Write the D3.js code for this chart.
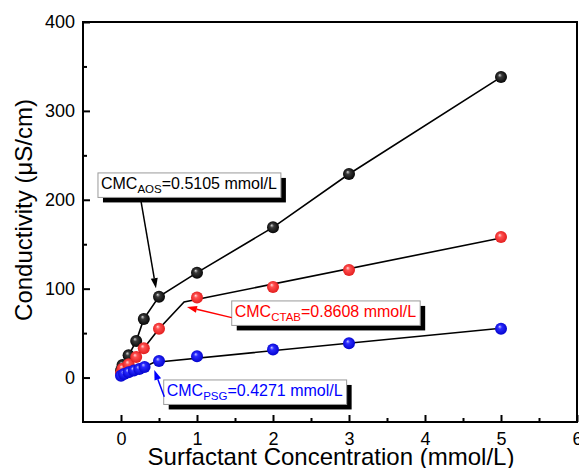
<!DOCTYPE html>
<html><head><meta charset="utf-8">
<script src="https://cdn.jsdelivr.net/npm/d3@7"></script>
<style>
body{margin:0;background:#fff;}
svg{display:block;font-family:"Liberation Sans",Arial,sans-serif;}
</style></head>
<body><svg id="c" width="579" height="468"></svg>
<script>
// ---- data ----
const xTicks = [0, 1, 2, 3, 4, 5, 6];
const yTicks = [0, 100, 200, 300, 400];
const xMinor = [0.5, 1.5, 2.5, 3.5, 4.5, 5.5];
const yMinor = [50, 150, 250, 350];

const aosX = [0, 0.02, 0.1, 0.2, 0.3, 0.5, 1, 2, 3, 5];
const aosY = [8, 14, 25, 41, 66, 91, 118, 169, 229, 338];

const ctabX = [0, 0.02, 0.1, 0.2, 0.3, 0.5, 1, 2, 3, 5];
const ctabY = [5, 10, 15, 23, 33, 55, 90, 102, 121, 158];
const ctabLineX = [0, 0.02, 0.1, 0.2, 0.3, 0.5, 0.83, 5];
const ctabLineY = [5, 10, 15, 23, 33, 55, 85, 157];

const psgX = [0, 0.04, 0.1, 0.17, 0.24, 0.31, 0.5, 1, 2, 3, 5];
const psgY = [2, 4, 6, 8, 9.5, 12, 18.5, 24, 31.5, 38.5, 55];
const psgLineX = [0, 0.04, 0.1, 0.17, 0.24, 0.31, 0.43, 5];
const psgLineY = [2, 4, 6, 8, 9.5, 12, 17, 55.5];

// annotations: [boxLeftX, boxTopY, arrowFromX, arrowFromY, arrowTipX, arrowTipY] in data units
const annNames = ["AOS", "CTAB", "PSG"];
const annValues = ["0.5105", "0.8608", "0.4271"];
const annColors = ["#000000", "#ff0000", "#0000ff"];
const annBox = [[-0.303, 230.2], [1.457, 86.2], [0.562, -2.7]];
const annArrow = [[0.263, 198.6, 0.46, 100.6], [1.457, 67.4, 0.868, 79.4], [0.57, -21.5, 0.438, 8.5]];

// ---- layout ----
const svg = d3.select("#c");
const L = 83, R = 577, T = 22, B = 422;
const x = d3.scaleLinear().domain([-0.5, 6]).range([L, R]);
const y = d3.scaleLinear().domain([-50, 400]).range([B, T]);

const defs = svg.append("defs");
function ball(id, hi, mid, dark) {
  const g = defs.append("radialGradient").attr("id", id)
    .attr("cx", "50%").attr("cy", "50%").attr("r", "55%")
    .attr("fx", "38%").attr("fy", "32%");
  g.append("stop").attr("offset", "0%").attr("stop-color", hi);
  g.append("stop").attr("offset", "30%").attr("stop-color", mid);
  g.append("stop").attr("offset", "100%").attr("stop-color", dark);
}
ball("gBlack", "#d8d8d8", "#3a3a3a", "#000000");
ball("gRed", "#ffe0e0", "#ff5050", "#e01818");
ball("gBlue", "#c8c8ff", "#2a2aff", "#0000c8");

// axes
const fs = 18;
const gx = svg.append("g").attr("transform", `translate(0,${B})`)
  .call(d3.axisBottom(x).tickValues(xTicks).tickSize(-7).tickPadding(10).tickFormat(d3.format("d")));
const gxm = svg.append("g").attr("transform", `translate(0,${B})`)
  .call(d3.axisBottom(x).tickValues(xMinor).tickSize(-4).tickFormat(""));
const gy = svg.append("g").attr("transform", `translate(${L},0)`)
  .call(d3.axisLeft(y).tickValues(yTicks).tickSize(-7).tickPadding(8).tickFormat(d3.format("d")));
const gym = svg.append("g").attr("transform", `translate(${L},0)`)
  .call(d3.axisLeft(y).tickValues(yMinor).tickSize(-4).tickFormat(""));
[gx, gxm, gy, gym].forEach(g => {
  g.select(".domain").remove();
  g.selectAll("line").attr("stroke", "#000").attr("stroke-width", 2);
  g.selectAll("text").attr("font-size", fs).attr("fill", "#000").attr("font-family", "Liberation Sans, Arial, sans-serif");
});

svg.append("rect").attr("x", L).attr("y", T).attr("width", R - L).attr("height", B - T)
  .attr("fill", "none").attr("stroke", "#000").attr("stroke-width", 2);

// titles
svg.append("text").attr("x", (L + R) / 2 + 1).attr("y", 465).attr("text-anchor", "middle")
  .attr("font-size", 24).text("Surfactant Concentration (mmol/L)");
svg.append("text").attr("transform", `translate(32,210) rotate(-90)`).attr("text-anchor", "middle")
  .attr("font-size", 24).text("Conductivity (\u03bcS/cm)");

// lines
const line = d3.line().x(d => x(d[0])).y(d => y(d[1]));
const lineSets = [
  d3.zip(aosX, aosY),
  d3.zip(ctabLineX, ctabLineY),
  d3.zip(psgLineX, psgLineY)
];
lineSets.forEach(ls => {
  svg.append("path").datum(ls).attr("d", line).attr("fill", "none")
    .attr("stroke", "#000").attr("stroke-width", 1.6);
});

// markers
const series = [[aosX, aosY, "gBlack"], [ctabX, ctabY, "gRed"], [psgX, psgY, "gBlue"]];
series.forEach(([xs, ys, g]) => {
  svg.append("g").selectAll("circle").data(d3.zip(xs, ys)).join("circle")
    .attr("cx", d => x(d[0])).attr("cy", d => y(d[1])).attr("r", 6)
    .attr("fill", `url(#${g})`);
});

// annotations
annNames.forEach((nm, i) => {
  const col = annColors[i];
  const bx = x(annBox[i][0]), by = y(annBox[i][1]);
  const g = svg.append("g");
  const shadow = g.append("rect").attr("fill", "#000");
  const box = g.append("rect").attr("fill", "#fff").attr("stroke", "#9a9a9a").attr("stroke-width", 1);
  const t = g.append("text").attr("x", bx + 3).attr("y", by + 16).attr("font-size", 16).attr("fill", col);
  t.append("tspan").text("CMC");
  t.append("tspan").attr("font-size", 11.5).attr("dy", 4).text(nm);
  t.append("tspan").attr("dy", -4).text("=" + annValues[i] + " mmol/L");
  const w = t.node().getComputedTextLength() + 7;
  const h = 24.5;
  shadow.attr("x", bx + 5).attr("y", by + 5).attr("width", w).attr("height", h);
  box.attr("x", bx).attr("y", by).attr("width", w).attr("height", h);

  const a = annArrow[i];
  const x1 = x(a[0]), y1 = y(a[1]), x2 = x(a[2]), y2 = y(a[3]);
  const ang = Math.atan2(y2 - y1, x2 - x1);
  const hl = 10, hw = 3.5;
  const bxp = x2 - hl * Math.cos(ang), byp = y2 - hl * Math.sin(ang);
  svg.append("line").attr("x1", x1).attr("y1", y1).attr("x2", bxp).attr("y2", byp)
    .attr("stroke", col).attr("stroke-width", 1.5);
  const px = -Math.sin(ang), py = Math.cos(ang);
  svg.append("path").attr("d",
    `M${x2},${y2}L${bxp + hw * px},${byp + hw * py}L${bxp - hw * px},${byp - hw * py}Z`)
    .attr("fill", col);
});
</script></body></html>
